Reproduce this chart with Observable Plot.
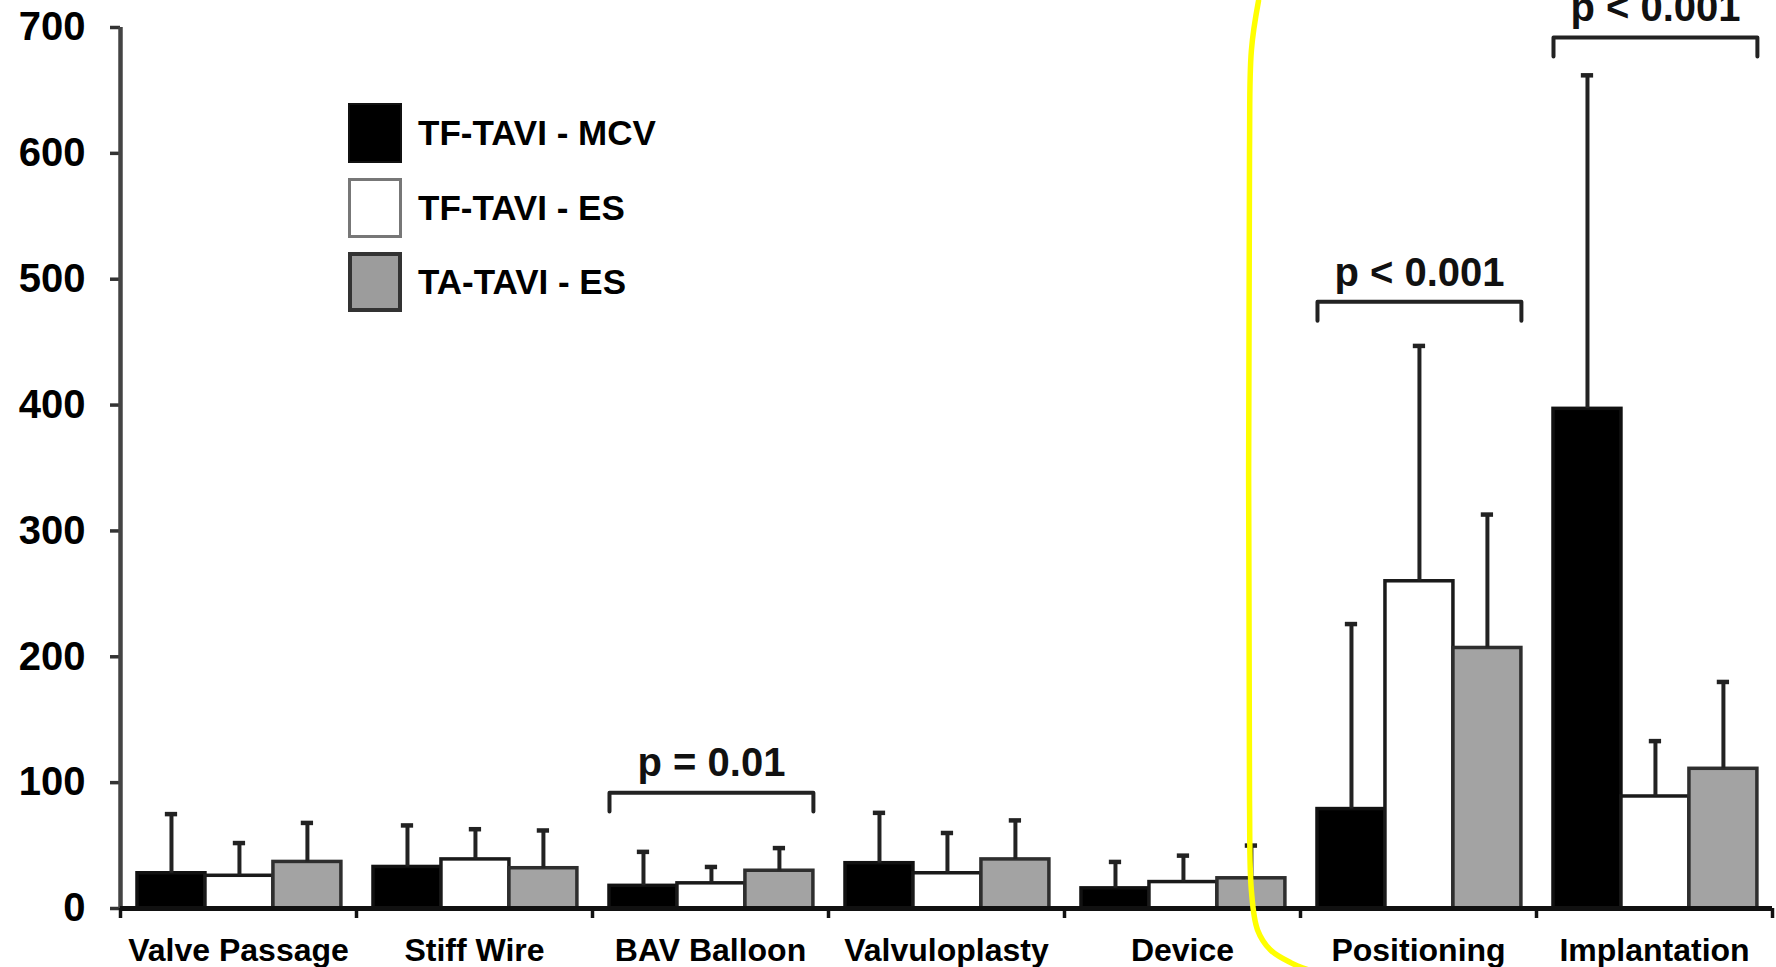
<!DOCTYPE html>
<html><head><meta charset="utf-8">
<script src="https://cdn.jsdelivr.net/npm/d3@7"></script>
<script src="https://cdn.jsdelivr.net/npm/@observablehq/plot@0.6"></script>
<style>
html,body{margin:0;padding:0;background:#fff;}
#wrap{position:relative;width:1776px;height:967px;overflow:hidden;}
#wrap svg{display:block;}
#legend{position:absolute;left:348px;top:103px;font-family:"Liberation Sans",Arial,sans-serif;font-weight:bold;font-size:35px;color:#000;}
.row{display:flex;align-items:center;height:60px;margin-bottom:14.5px;}
.sw{width:54px;height:60px;box-sizing:border-box;margin-right:16px;}
</style></head><body><div id="wrap"><div id="legend"></div></div>
<script>
// ---- data ----
const categories = ["Valve Passage", "Stiff Wire", "BAV Balloon", "Valvuloplasty", "Device", "Positioning", "Implantation"];
const series = ["TF-TAVI - MCV", "TF-TAVI - ES", "TA-TAVI - ES"];
const meanTFMCV = [28, 33, 18, 36, 16, 79, 397];
const sdTFMCV   = [47, 33, 27, 40, 21, 147, 265];
const meanTFES  = [26, 39, 20, 28, 21, 260, 89];
const sdTFES    = [26, 24, 13, 32, 21, 187, 44];
const meanTAES  = [37, 32, 30, 39, 24, 207, 111];
const sdTAES    = [31, 30, 18, 31, 26, 106, 69];
const yTicks = [0, 100, 200, 300, 400, 500, 600, 700];
const pAnnotations = [
  {category: "BAV Balloon", label: "p = 0.01", level: 92},
  {category: "Positioning", label: "p < 0.001", level: 482},
  {category: "Implantation", label: "p < 0.001", level: 692}
];
// yellow highlight outline (annotation), in chart units
const highlightX = [4.822, 4.792, 4.784, 4.784, 4.792, 4.818, 4.873, 4.958, 5.068];
const highlightY = [721, 682, 602, 86, 14, -17, -33, -43, -51];

const fills = ["#000000", "#ffffff", "#a3a3a3"];
const strokes = ["#111111", "#1a1a1a", "#2e2e2e"];

// ---- layout helpers ----
const groupOffset = 0.072, barW = 0.288, capHalf = 0.026, drop = 15;
const means = [meanTFMCV, meanTFES, meanTAES];
const sds = [sdTFMCV, sdTFES, sdTAES];
const table = [];
categories.forEach((c, i) => series.forEach((s, j) => {
  const x1 = i + groupOffset + j * barW;
  table.push({category: c, series: s, si: j, x1, x2: x1 + barW, xc: x1 + barW / 2,
              mean: means[j][i], upper: means[j][i] + sds[j][i]});
}));
const bracketPts = [];
pAnnotations.forEach((a, k) => {
  const i = categories.indexOf(a.category);
  const l = i + groupOffset, r = i + groupOffset + 3 * barW;
  bracketPts.push({k, x: l, y: a.level - drop}, {k, x: l, y: a.level}, {k, x: r, y: a.level}, {k, x: r, y: a.level - drop});
  a.xc = (l + r) / 2; a.ty = a.level + 13;
});
const highlight = highlightX.map((x, i) => ({x, y: highlightY[i]}));

const font = "'Liberation Sans', Arial, sans-serif";
const chart = Plot.plot({
  width: 1776, height: 967,
  marginLeft: 120, marginRight: 4, marginTop: 27, marginBottom: 59,
  style: {fontFamily: font, fontWeight: "bold", background: "#fff", color: "#000"},
  x: {domain: [0, categories.length]},
  y: {domain: [0, 700]},
  color: {domain: series, range: fills},
  marks: [
    Plot.rect(table, {x1: "x1", x2: "x2", y1: 0, y2: "mean", fill: "series",
      stroke: d => strokes[d.si], strokeWidth: 3.5}),
    Plot.ruleX(table, {x: "xc", y1: "mean", y2: "upper", stroke: "#222", strokeWidth: 4}),
    Plot.ruleY(table, {y: "upper", x1: d => d.xc - capHalf, x2: d => d.xc + capHalf, stroke: "#222", strokeWidth: 4.5}),
    Plot.line(bracketPts, {x: "x", y: "y", z: "k", stroke: "#222", strokeWidth: 4}),
    Plot.text(pAnnotations, {x: "xc", y: "ty", text: "label", lineAnchor: "bottom", fontSize: 40, fontWeight: "bold", fill: "#111"}),
    Plot.axisY({ticks: yTicks, tickSize: 10, tickPadding: 25, fontSize: 40, fontWeight: "bold",
      stroke: "#333", strokeWidth: 3.5, fill: "#000"}),
    Plot.ruleX([0], {stroke: "#444", strokeWidth: 4.5}),
    Plot.axisX({ticks: d3.range(0, categories.length + 1), tickSize: 10, tickFormat: () => "",
      stroke: "#111", strokeWidth: 3.5}),
    Plot.axisX({ticks: categories.map((c, i) => i + 0.5), tickSize: 0, tickPadding: 30,
      tickFormat: d => categories[Math.floor(d)], fontSize: 32, fontWeight: "bold", fill: "#000"}),
    Plot.ruleY([0], {stroke: "#111", strokeWidth: 5}),
    Plot.line(highlight, {x: "x", y: "y", curve: "catmull-rom", stroke: "#ffff00", strokeWidth: 5.5})
  ]
});
const wrap = document.getElementById("wrap");
wrap.prepend(chart);

// legend overlay
const legend = document.getElementById("legend");
const swStyles = [
  "background:#000;border:2px solid #111;",
  "background:#fff;border:3px solid #777;",
  "background:#9c9c9c;border:4px solid #333;"
];
series.forEach((s, j) => {
  const row = document.createElement("div");
  row.className = "row";
  const sw = document.createElement("div");
  sw.className = "sw";
  sw.style.cssText = swStyles[j];
  const t = document.createElement("span");
  t.textContent = s;
  row.append(sw, t);
  legend.append(row);
});
</script></body></html>
